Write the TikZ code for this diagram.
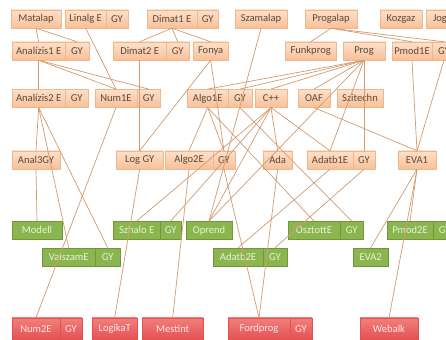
\documentclass[tikz,border=0pt]{standalone}
\usepackage{fontspec}
\setmainfont{Carlito}

\definecolor{narancsvonal}{RGB}{240,182,140}
\definecolor{narancsfent}{RGB}{253,224,202}
\definecolor{narancslent}{RGB}{247,192,152}
\definecolor{barna}{RGB}{95,72,55}
\definecolor{zoldvonal}{RGB}{112,152,58}
\definecolor{zold}{RGB}{139,181,78}
\definecolor{zoldszoveg}{RGB}{232,243,215}
\definecolor{pirosfent}{RGB}{240,128,126}
\definecolor{piroslent}{RGB}{228,80,80}
\definecolor{pirosszoveg}{RGB}{255,228,228}
\definecolor{vonal}{RGB}{210,155,112}

\begin{document}
\begin{tikzpicture}[
    obox/.style={rectangle, draw=narancsvonal, top color=narancsfent, bottom color=narancslent,
                 text=barna, minimum height=0.54cm, inner sep=0pt, font=\fontsize{9}{10}\selectfont},
    gbox/.style={rectangle, draw=zoldvonal, fill=zold, text=zoldszoveg,
                 minimum height=0.54cm, inner sep=0pt, font=\fontsize{9}{10}\selectfont},
    rbox/.style={rectangle, draw=piroslent, top color=pirosfent, bottom color=piroslent,
                 text=pirosszoveg, minimum height=0.66cm, inner sep=0pt, font=\fontsize{9}{10}\selectfont},
    prereq/.style={draw=vonal, line width=0.6pt}
  ]
    \useasboundingbox (0,0) rectangle (13.38,10.2);
    \clip (0,0) rectangle (13.38,10.2);
    \fill[white] (0,0) rectangle (13.38,10.2);

    % 1. félév
    \node[obox, minimum width=1.50cm] (mat) at (1.08, 9.63) {Matalap};
    \node[obox, minimum width=1.23cm] (lin) at (2.57, 9.63) {Linalg E};
    \node[obox, minimum width=0.66cm] (lingy) at (3.51, 9.63) {GY};
    \node[obox, minimum width=1.50cm] (dm1) at (5.16, 9.63) {Dimat1 E};
    \node[obox, minimum width=0.63cm] (dm1gy) at (6.23, 9.63) {GY};
    \node[obox, minimum width=1.56cm] (szam) at (7.83, 9.63) {Szamalap};
    \node[obox, minimum width=1.56cm] (prga) at (9.93, 9.63) {Progalap};
    \node[obox, minimum width=1.26cm] (kozg) at (12.03, 9.63) {Kozgaz};
    \node[obox, minimum width=0.84cm] (jog) at (13.20, 9.63) {Jog};

    % 2. félév
    \node[obox, minimum width=1.59cm] (an1) at (1.16, 8.67) {Analízis1 E};
    \node[obox, minimum width=0.72cm] (an1gy) at (2.31, 8.67) {GY};
    \node[obox, minimum width=1.59cm] (dm2) at (4.19, 8.67) {Dimat2 E};
    \node[obox, minimum width=0.69cm] (dm2gy) at (5.33, 8.67) {GY};
    \node[obox, minimum width=1.05cm] (fonya) at (6.32, 8.67) {Fonya};
    \node[obox, minimum width=1.53cm] (funk) at (9.32, 8.67) {Funkprog};
    \node[obox, minimum width=1.26cm] (prog) at (10.92, 8.67) {Prog};
    \node[obox, minimum width=1.20cm] (pm1) at (12.36, 8.67) {Pmod1E};
    \node[obox, minimum width=0.72cm] (pm1gy) at (13.32, 8.67) {GY};

    % 3. félév
    \node[obox, minimum width=1.59cm] (an2) at (1.16, 7.25) {Analízis2 E};
    \node[obox, minimum width=0.69cm] (an2gy) at (2.30, 7.25) {GY};
    \node[obox, minimum width=1.26cm] (num1) at (3.48, 7.25) {Num1E};
    \node[obox, minimum width=0.69cm] (num1gy) at (4.46, 7.25) {GY};
    \node[obox, minimum width=1.23cm] (algo1) at (6.23, 7.25) {Algo1E};
    \node[obox, minimum width=0.72cm] (algo1gy) at (7.20, 7.25) {GY};
    \node[obox, minimum width=0.96cm] (cpp) at (8.13, 7.25) {C++};
    \node[obox, minimum width=0.96cm] (oaf) at (9.42, 7.25) {OAF};
    \node[obox, minimum width=1.38cm] (szit) at (10.80, 7.25) {Szitechn};

    % 4. félév
    \node[obox, minimum width=1.44cm] (an3) at (1.08, 5.40) {Anal3GY};
    \node[obox, minimum width=1.41cm] (log) at (4.19, 5.40) {Log GY};
    \node[obox, minimum width=1.44cm] (algo2) at (5.67, 5.40) {Algo2E};
    \node[obox, minimum width=0.66cm] (algo2gy) at (6.72, 5.40) {GY};
    \node[obox, minimum width=0.87cm] (ada) at (8.33, 5.40) {Ada};
    \node[obox, minimum width=1.38cm] (adb1) at (9.90, 5.40) {Adatb1E};
    \node[obox, minimum width=0.66cm] (adb1gy) at (10.92, 5.40) {GY};
    \node[obox, minimum width=1.14cm] (eva1) at (12.51, 5.40) {EVA1};

    % 5. félév (zöld)
    \node[gbox, minimum width=1.50cm] (modell) at (1.11, 3.29) {Modell};
    \node[gbox, minimum width=1.41cm] (szh) at (4.10, 3.29) {Szhalo E};
    \node[gbox, minimum width=0.63cm] (szhgy) at (5.12, 3.29) {GY};
    \node[gbox, minimum width=1.38cm] (oprend) at (6.27, 3.29) {Oprend};
    \node[gbox, minimum width=1.56cm] (oszt) at (9.42, 3.29) {OsztottE};
    \node[gbox, minimum width=0.69cm] (osztgy) at (10.55, 3.29) {GY};
    \node[gbox, minimum width=1.38cm] (pm2) at (12.30, 3.29) {Pmod2E};
    \node[gbox, minimum width=0.69cm] (pm2gy) at (13.34, 3.29) {GY};

    \node[gbox, minimum width=1.59cm] (valsz) at (2.06, 2.49) {ValszamE};
    \node[gbox, minimum width=0.75cm] (valszgy) at (3.23, 2.49) {GY};
    \node[gbox, minimum width=1.50cm] (adb2) at (7.14, 2.49) {Adatb2E};
    \node[gbox, minimum width=0.72cm] (adb2gy) at (8.25, 2.49) {GY};
    \node[gbox, minimum width=1.05cm] (eva2) at (11.12, 2.49) {EVA2};

    % 6. félév (piros)
    \node[rbox, minimum width=1.44cm] (num2) at (1.08, 0.33) {Num2E};
    \node[rbox, minimum width=0.66cm] (num2gy) at (2.13, 0.33) {GY};
    \node[rbox, minimum width=1.35cm] (logt) at (3.44, 0.33) {LogikaT};
    \node[rbox, minimum width=1.83cm] (mest) at (5.18, 0.33) {Mestint};
    \node[rbox, minimum width=1.86cm] (ford) at (7.77, 0.33) {Fordprog};
    \node[rbox, minimum width=0.66cm] (fordgy) at (9.03, 0.33) {GY};
    \node[rbox, minimum width=1.74cm] (web) at (11.67, 0.33) {Webalk};

    % előfeltételek
    \draw[prereq] (mat.south) -- (an1.north);
    \draw[prereq] (mat.south) -- (an1gy.north);
    \draw[prereq] (lin.south) -- (num1.north);
    \draw[prereq] (dm1.south) -- (dm2.north);
    \draw[prereq] (dm1.south) -- (dm2gy.north);
    \draw[prereq] (dm1.south) -- (fonya.north);
    \draw[prereq] (prga.south) -- (funk.north);
    \draw[prereq] (prga.south) -- (pm1.north);
    \draw[prereq] (prga.south) -- (pm1gy.north);
    \draw[prereq] (an1.south) -- (an2.north);
    \draw[prereq] (an1.south) -- (num1.north);
    \draw[prereq] (an1.south) -- (num1gy.north);
    \draw[prereq] (dm2.south) -- (log.north);
    \draw[prereq] (fonya.south) -- (log.north);
    \draw[prereq] (fonya.south) -- (algo2gy.north);
    \draw[prereq] (szam.south) -- (oprend.north);
    \draw[prereq] (prog.south) -- (algo1.north);
    \draw[prereq] (prog.south) -- (algo1gy.north);
    \draw[prereq] (prog.south) -- (cpp.north);
    \draw[prereq] (prog.south) -- (oaf.north);
    \draw[prereq] (prog.south) -- (adb1.north);
    \draw[prereq] (prog.south) -- (adb1gy.north);
    \draw[prereq] (prog.south) -- (oprend.north);
    \draw[prereq] (pm1.south) -- (eva1.north);
    \draw[prereq] (pm1gy.south) -- (eva1.north);
    \draw[prereq] (an2.south) -- (an3.north);
    \draw[prereq] (an2.south) -- (valsz.north);
    \draw[prereq] (an2.south) -- (valszgy.north);
    \draw[prereq] (num1.south) -- (num2.north);
    \draw[prereq] (algo1.south) -- (algo2.north);
    \draw[prereq] (algo1.south) -- (algo2gy.north);
    \draw[prereq] (algo1.south) -- (oszt.north);
    \draw[prereq] (algo1gy.south) -- (osztgy.north);
    \draw[prereq] (cpp.south) -- (ada.north);
    \draw[prereq] (cpp.south) -- (adb1.north);
    \draw[prereq] (cpp.south) -- (szh.north);
    \draw[prereq] (cpp.south) -- (szhgy.north);
    \draw[prereq] (cpp.south) -- (oprend.north);
    \draw[prereq] (oaf.south) -- (eva1.north);
    \draw[prereq] (an3.south) -- (modell.north);
    \draw[prereq] (log.south) -- (logt.north);
    \draw[prereq] (algo2.south) -- (mest.north);
    \draw[prereq] (algo2gy.south) -- (ford.north);
    \draw[prereq] (ada.south) -- (ford.north);
    \draw[prereq] (adb1.south) -- (adb2.north);
    \draw[prereq] (adb1gy.south) -- (adb2gy.north);
    \draw[prereq] (eva1.south) -- (eva2.north);
    \draw[prereq] (eva1.south) -- (pm2.north);
    \draw[prereq] (eva1.south) -- (web.north);
\end{tikzpicture}
\end{document}
